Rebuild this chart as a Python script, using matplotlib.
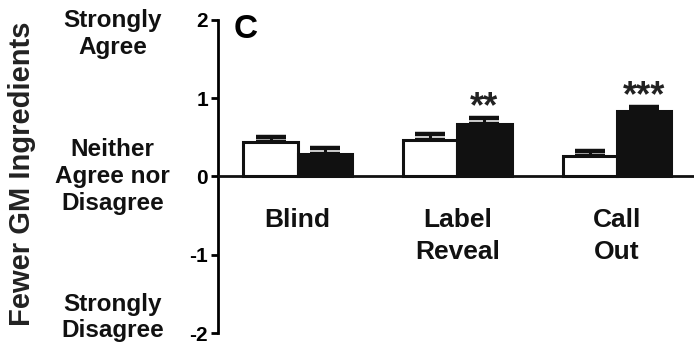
import numpy as np
import matplotlib.pyplot as plt

plt.rcParams['font.family'] = ['Liberation Sans', 'DejaVu Sans']

# data ~~~~~~~~~~~~~~~~~~~~~~~~~~~~~~~~~~~~~~~~~~~~~~~~~~~~~~~~~~~~~~~~~
categories = ['Blind', 'Label\nReveal', 'Call\nOut']
white_vals = [0.44, 0.46, 0.26]
white_err = [0.07, 0.08, 0.07]
black_vals = [0.29, 0.67, 0.83]
black_err = [0.07, 0.07, 0.06]
stars = ['', '**', '***']
yticks = [-2, -1, 0, 1, 2]
scale_labels = [(1.82, 'Strongly\nAgree'), (0.0, 'Neither\nAgree nor\nDisagree'), (-1.8, 'Strongly\nDisagree')]

x = np.arange(len(categories))
w = 0.34

fig = plt.figure(figsize=(6.94, 3.48), dpi=100)
ax = fig.add_axes([0.314, 0.043, 0.69, 0.9])

ax.bar(x - w / 2, white_vals, w, color='white', edgecolor='#111111', linewidth=2.2, zorder=2)
ax.bar(x + w / 2, black_vals, w, color='#111111', edgecolor='#111111', linewidth=2.2, zorder=2)
ax.errorbar(x - w / 2, white_vals, yerr=[np.zeros(3), white_err], fmt='none', ecolor='#111111',
            elinewidth=2.2, capsize=10.5, capthick=3.2, zorder=1)
ax.errorbar(x + w / 2, black_vals, yerr=[np.zeros(3), black_err], fmt='none', ecolor='#111111',
            elinewidth=2.2, capsize=10.5, capthick=3.2, zorder=1)

# significance stars
for xi, v, e, s in zip(x, black_vals, black_err, stars):
    if s:
        ax.text(xi + w / 2, v + e - 0.09, s, ha='center', va='bottom', fontsize=26,
                fontweight='bold', color='#222222')

ax.axhline(0, color='#111111', linewidth=2, zorder=3)

for xi, c in zip(x, categories):
    ax.text(xi, -0.4, c, ha='center', va='top', fontsize=19, fontweight='bold',
            linespacing=1.45, color='#111111')

ax.set_xlim(-0.5, 2.5)
ax.set_ylim(-2, 2)
ax.set_yticks(yticks)
ax.set_yticklabels([str(t) for t in yticks], fontsize=15, fontweight='bold')
ax.set_xticks([])
for sp in ['top', 'right', 'bottom']:
    ax.spines[sp].set_visible(False)
ax.spines['left'].set_linewidth(2)
ax.tick_params(axis='y', length=5, width=2, pad=2)

for yv, t in scale_labels:
    ax.text(-1.16, yv, t, ha='center', va='center', fontsize=17.5, fontweight='bold',
            linespacing=1.2, color='#111111', transform=ax.transData, clip_on=False)

ax.text(-0.4, 2.07, 'C', ha='left', va='top', fontsize=24, fontweight='bold')

fig.text(0.032, 0.5, 'Fewer GM Ingredients', rotation=90, ha='center', va='center',
         fontsize=21, fontweight='bold', color='#222222')

fig.savefig('out.png', dpi=100)
